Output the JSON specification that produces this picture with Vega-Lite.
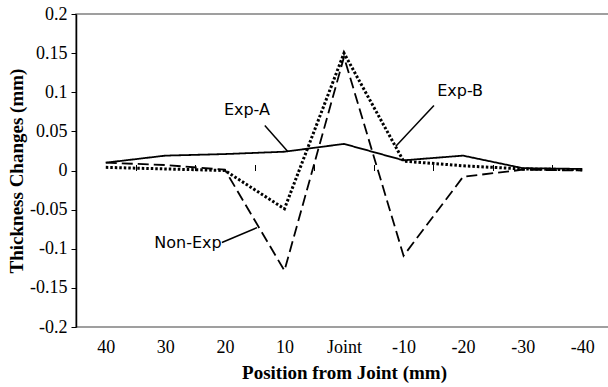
{
  "$schema": "https://vega.github.io/schema/vega-lite/v6.json",
  "width": 536,
  "height": 313,
  "autosize": {"type": "none"},
  "padding": {"left": 76, "top": 14, "right": 0, "bottom": 60},
  "background": "white",
  "config": {"view": {"stroke": "#808080", "strokeWidth": 1.5}, "axis": {"grid": false}},
  "datasets": {
    "lines": [
      {"pos": 40, "series": "Exp-A", "value": 0.010},
      {"pos": 30, "series": "Exp-A", "value": 0.019},
      {"pos": 20, "series": "Exp-A", "value": 0.021},
      {"pos": 10, "series": "Exp-A", "value": 0.024},
      {"pos": 0, "series": "Exp-A", "value": 0.034},
      {"pos": -10, "series": "Exp-A", "value": 0.013},
      {"pos": -20, "series": "Exp-A", "value": 0.019},
      {"pos": -30, "series": "Exp-A", "value": 0.003},
      {"pos": -40, "series": "Exp-A", "value": 0.002},
      {"pos": 40, "series": "Exp-B", "value": 0.004},
      {"pos": 30, "series": "Exp-B", "value": 0.002},
      {"pos": 20, "series": "Exp-B", "value": 0.0},
      {"pos": 10, "series": "Exp-B", "value": -0.049},
      {"pos": 0, "series": "Exp-B", "value": 0.150},
      {"pos": -10, "series": "Exp-B", "value": 0.012},
      {"pos": -20, "series": "Exp-B", "value": 0.006},
      {"pos": -30, "series": "Exp-B", "value": 0.002},
      {"pos": -40, "series": "Exp-B", "value": 0.001},
      {"pos": 40, "series": "Non-Exp", "value": 0.010},
      {"pos": 30, "series": "Non-Exp", "value": 0.007},
      {"pos": 20, "series": "Non-Exp", "value": 0.001},
      {"pos": 10, "series": "Non-Exp", "value": -0.128},
      {"pos": 0, "series": "Non-Exp", "value": 0.145},
      {"pos": -10, "series": "Non-Exp", "value": -0.109},
      {"pos": -20, "series": "Non-Exp", "value": -0.008},
      {"pos": -30, "series": "Non-Exp", "value": 0.001},
      {"pos": -40, "series": "Non-Exp", "value": 0.0}
    ],
    "notes": [
      {"label": "Exp-A", "tx": 16.3, "ty": 0.077, "x1": 13.3, "y1": 0.0575, "x2": 9.4, "y2": 0.024},
      {"label": "Exp-B", "tx": -19.5, "ty": 0.101, "x1": -15.1, "y1": 0.083, "x2": -8.7, "y2": 0.031},
      {"label": "Non-Exp", "tx": 26.2, "ty": -0.093, "x1": 20.5, "y1": -0.092, "x2": 14.6, "y2": -0.073}
    ]
  },
  "layer": [
    {
      "mark": {"type": "rule", "color": "#808080", "strokeWidth": 1.5},
      "encoding": {
        "y": {"datum": 0, "type": "quantitative", "scale": {"domain": [-0.2, 0.2], "nice": false, "zero": false}, "axis": null}
      }
    },
    {
      "data": {"name": "lines"},
      "mark": {"type": "line", "color": "black"},
      "encoding": {
        "x": {
          "field": "pos", "type": "quantitative",
          "scale": {"domain": [45, -45], "nice": false, "zero": false},
          "axis": {
            "orient": "bottom",
            "values": [40, 30, 20, 10, 0, -10, -20, -30, -40],
            "labelExpr": "datum.value == 0 ? 'Joint' : '' + datum.value",
            "ticks": false, "domain": false,
            "labelFont": "Liberation Serif", "labelFontSize": 18, "labelColor": "black", "labelPadding": 11,
            "title": "Position from Joint (mm)", "titleFont": "Liberation Serif", "titleFontWeight": "bold",
            "titleFontSize": 19, "titleColor": "black", "titlePadding": 7
          }
        },
        "y": {
          "field": "value", "type": "quantitative",
          "scale": {"domain": [-0.2, 0.2], "nice": false, "zero": false},
          "axis": {
            "values": [-0.2, -0.15, -0.1, -0.05, 0, 0.05, 0.1, 0.15, 0.2],
            "labelExpr": "'' + datum.value",
            "domainColor": "black", "domainWidth": 1.5, "tickColor": "black", "tickSize": 5, "tickWidth": 1,
            "labelFont": "Liberation Serif", "labelFontSize": 18, "labelColor": "black", "labelPadding": 4,
            "title": "Thickness Changes (mm)", "titleFont": "Liberation Serif", "titleFontWeight": "bold",
            "titleFontSize": 19, "titleColor": "black", "titlePadding": 3
          }
        },
        "detail": {"field": "series"},
        "strokeDash": {
          "field": "series", "type": "nominal",
          "scale": {"type": "ordinal", "domain": ["Exp-A", "Exp-B", "Non-Exp"], "range": [[1, 0], [2.5, 2], [11, 5]]},
          "legend": null
        },
        "strokeWidth": {
          "field": "series", "type": "nominal",
          "scale": {"type": "ordinal", "domain": ["Exp-A", "Exp-B", "Non-Exp"], "range": [1.8, 3, 1.8]},
          "legend": null
        }
      }
    },
    {
      "data": {"name": "notes"},
      "mark": {"type": "rule", "color": "black", "strokeWidth": 1.5},
      "encoding": {
        "x": {"field": "x1", "type": "quantitative", "scale": {"domain": [45, -45], "nice": false, "zero": false},
          "axis": {"orient": "top", "offset": -156.5, "values": [35, 25, 15, 5, -5, -15, -25, -35],
            "labels": false, "domain": false, "tickColor": "black", "tickSize": 6, "tickWidth": 1, "title": null}},
        "x2": {"field": "x2"},
        "y": {"field": "y1", "type": "quantitative", "scale": {"domain": [-0.2, 0.2], "nice": false, "zero": false}, "axis": null},
        "y2": {"field": "y2"}
      }
    },
    {
      "data": {"name": "notes"},
      "mark": {"type": "text", "font": "DejaVu Sans", "fontSize": 16, "color": "black", "baseline": "middle", "align": "center"},
      "encoding": {
        "x": {"field": "tx", "type": "quantitative", "scale": {"domain": [45, -45], "nice": false, "zero": false}, "axis": null},
        "y": {"field": "ty", "type": "quantitative", "scale": {"domain": [-0.2, 0.2], "nice": false, "zero": false}, "axis": null},
        "text": {"field": "label"}
      }
    }
  ],
  "resolve": {"axis": {"x": "independent", "y": "independent"}}
}
